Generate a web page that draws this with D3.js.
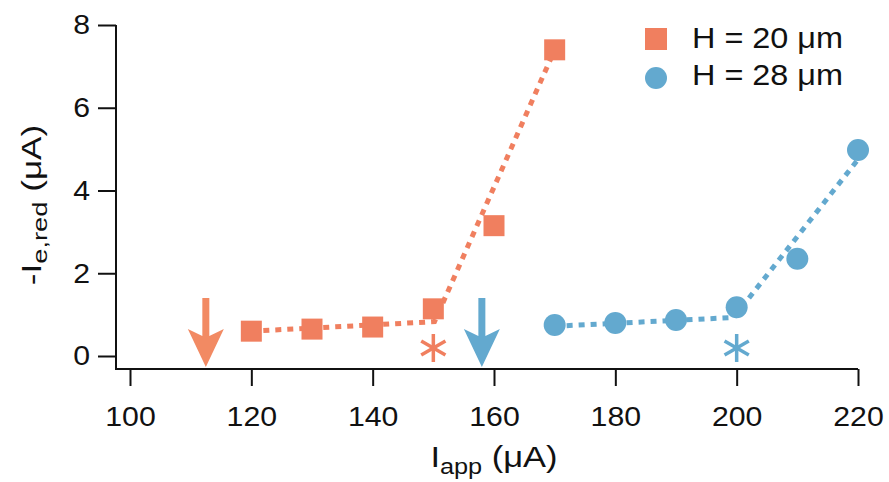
<!DOCTYPE html>
<html lang="en">
<head>
  <meta charset="utf-8">
  <title>Ie,red vs Iapp</title>
  <script src="https://d3js.org/d3.v7.min.js"></script>
  <style>
    body { margin: 0; background: #fff; }
    svg text { font-family: "Liberation Sans", Arial, sans-serif; fill: #111; }
  </style>
</head>
<body>
  <div id="chart"></div>
  <script>
    "use strict"

    // data
    const iApp20 = [120, 130, 140, 150, 160, 170];
    const ieRed20 = [0.60, 0.65, 0.70, 1.14, 3.15, 7.40];
    const iApp28 = [170, 180, 190, 200, 210, 220];
    const ieRed28 = [0.75, 0.80, 0.87, 1.18, 2.35, 4.98];
    // piecewise fits (dotted)
    const fit20X = [120, 150.2, 170];
    const fit20Y = [0.60, 0.83, 7.40];
    const fit28X = [170, 199.5, 220];
    const fit28Y = [0.72, 0.93, 4.75];
    // onset arrows and asterisks
    const arrowX = [112.5, 158];
    const starX = [150, 200];
    const xTicks = [100, 120, 140, 160, 180, 200, 220];
    const yTicks = [0, 2, 4, 6, 8];
    const legendLabels = ["H = 20 \u03BCm", "H = 28 \u03BCm"];

    const red = "#f07f5f", blue = "#63a9cf";
    const redArrow = "#f28a63";

    const W = 889, H = 482;
    const svg = d3.select("#chart").append("svg")
      .attr("width", W).attr("height", H);

    const x = d3.scaleLinear().domain([100, 220]).range([130, 858]);
    const y = d3.scaleLinear().domain([0, 8]).range([356, 25]);
    const axisY = 369, axisX = 116;

    // axes
    const gx = svg.append("g")
      .attr("transform", "translate(0," + axisY + ")")
      .call(d3.axisBottom(x).tickValues(xTicks).tickSize(17).tickPadding(20))
      .call(g => g.select(".domain").remove());
    const gy = svg.append("g")
      .attr("transform", "translate(" + axisX + ",0)")
      .call(d3.axisLeft(y).tickValues(yTicks).tickSize(18).tickPadding(8))
      .call(g => g.select(".domain").remove());

    svg.selectAll(".tick line").attr("stroke", "#111").attr("stroke-width", 2);
    svg.selectAll(".tick text").attr("font-size", 28).attr("fill", "#111");
    // reference glyphs are a bit wider than Liberation Sans
    gx.selectAll(".tick text").attr("transform", function () {
      return "scale(1.08,1)";
    }).attr("x", function () { return 0; });
    gy.selectAll(".tick text").attr("x", -26 / 1.08).attr("transform", "scale(1.08,1)");

    svg.append("path")
      .attr("d", "M" + axisX + "," + y(8) + "V" + axisY + "H" + x(220))
      .attr("fill", "none").attr("stroke", "#111").attr("stroke-width", 2);

    // axis titles
    const xt = svg.append("text")
      .attr("transform", "translate(" + x(160) + ",467) scale(1.15,1)")
      .attr("text-anchor", "middle").attr("font-size", 30);
    xt.append("tspan").text("I");
    xt.append("tspan").attr("font-size", 22).attr("dy", 7).text("app");
    xt.append("tspan").attr("dy", -7).text(" (\u03BCA)");

    const yt = svg.append("text")
      .attr("transform", "translate(41,205) rotate(-90) scale(1.3,1)")
      .attr("text-anchor", "middle").attr("font-size", 27);
    yt.append("tspan").text("-I");
    yt.append("tspan").attr("font-size", 21).attr("dy", 6).text("e,red");
    yt.append("tspan").attr("dy", -6).text(" (\u03BCA)");

    // dotted fit lines
    const line = d3.line().x(d => x(d[0])).y(d => y(d[1]));
    [[fit20X, fit20Y, red], [fit28X, fit28Y, blue]].forEach(([fx, fy, c]) => {
      svg.append("path")
        .attr("d", line(d3.zip(fx, fy)))
        .attr("fill", "none").attr("stroke", c)
        .attr("stroke-width", 5).attr("stroke-dasharray", "6,6");
    });

    // markers
    svg.selectAll(".sq").data(d3.zip(iApp20, ieRed20)).join("rect")
      .attr("x", d => x(d[0]) - 10.5).attr("y", d => y(d[1]) - 10.5)
      .attr("width", 21).attr("height", 21).attr("fill", red);
    svg.selectAll(".ci").data(d3.zip(iApp28, ieRed28)).join("circle")
      .attr("cx", d => x(d[0])).attr("cy", d => y(d[1]))
      .attr("r", 11).attr("fill", blue);

    // arrows
    arrowX.forEach((v, i) => {
      const cx = x(v), c = i === 0 ? redArrow : blue;
      svg.append("path")
        .attr("d", "M" + (cx - 3.5) + ",298V336L" + (cx - 18) + ",329L" + cx + ",367L" +
          (cx + 18) + ",329L" + (cx + 3.5) + ",336V298Z")
        .attr("fill", c);
    });

    // asterisks
    starX.forEach((v, i) => {
      const cx = x(v), cy = 348, r = 14, c = i === 0 ? red : blue;
      [90, 30, -30].forEach(a => {
        const rad = a * Math.PI / 180;
        svg.append("line")
          .attr("x1", cx - r * Math.cos(rad)).attr("y1", cy - r * Math.sin(rad))
          .attr("x2", cx + r * Math.cos(rad)).attr("y2", cy + r * Math.sin(rad))
          .attr("stroke", c).attr("stroke-width", 3.5);
      });
    });

    // legend
    svg.append("rect").attr("x", 645).attr("y", 28).attr("width", 22).attr("height", 22).attr("fill", red);
    svg.append("circle").attr("cx", 656).attr("cy", 78).attr("r", 11).attr("fill", blue);
    legendLabels.forEach((t, i) => {
      svg.append("text")
        .attr("transform", "translate(692," + (48 + i * 37) + ") scale(1.08,1)")
        .attr("font-size", 30).text(t);
    });
  </script>
</body>
</html>
